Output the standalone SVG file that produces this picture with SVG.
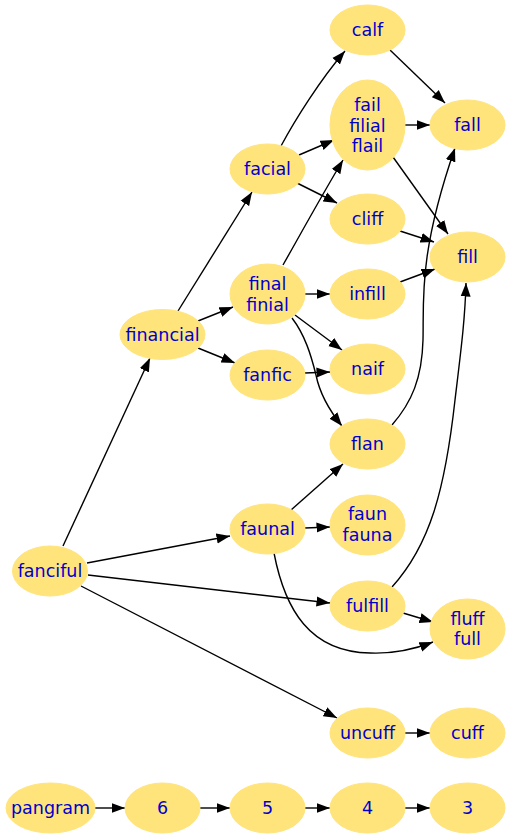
<svg xmlns="http://www.w3.org/2000/svg" width="511" height="839" viewBox="0 0 511 839">
<defs>
<style>
.n ellipse{fill:#ffe47c;stroke:#ffe47c;stroke-width:1}
.n text{font-family:"DejaVu Sans",sans-serif;font-size:17.5px;fill:#0000cd;text-anchor:middle}
#edges path{fill:none;stroke:#000;stroke-width:1.4;marker-end:url(#ah)}
</style>
<marker id="ah" markerUnits="userSpaceOnUse" markerWidth="14" markerHeight="11" viewBox="0 0 14 11" refX="13.5" refY="5.5" orient="auto">
<path d="M0,0.5 L13.5,5.5 L0,10.5 z" fill="#000"/>
</marker>
</defs>
<rect width="511" height="839" fill="#fff"/>
<g id="edges">
<path d="M63,546 L150,358"/>
<path d="M87,563 L230,536"/>
<path d="M88,575 L330,603"/>
<path d="M81,586 L337,718"/>
<path d="M178,311 L252,192"/>
<path d="M198,321 L233,307"/>
<path d="M198,348 L235,363"/>
<path d="M281,146 C295,120 320,80 345,51"/>
<path d="M299,155 L334,140"/>
<path d="M297,183 L337,203"/>
<path d="M283,265 C300,235 322,195 343,160"/>
<path d="M305,294 L330,294"/>
<path d="M295,315 L342,350"/>
<path d="M292,318 C305,335 311,355 316,375 C320,395 329,410 342,426"/>
<path d="M305,373 L330,372"/>
<path d="M390,50 L445,103"/>
<path d="M405,125 L430,125"/>
<path d="M393,157 L448,234"/>
<path d="M400,231 L434,242"/>
<path d="M400,282 L435,269"/>
<path d="M392,425 C412,402 422,378 423,340 C424,300 418,255 455,148"/>
<path d="M291,510 L343,464"/>
<path d="M305,528 L330,527"/>
<path d="M274,553 C285,610 310,652 370,653 C395,654 415,649 433,642"/>
<path d="M392,587 C430,545 445,490 455,400 C461,350 465,320 466,283"/>
<path d="M403,613 L433,622"/>
<path d="M405,733 L430,733"/>
<path d="M95,808 L125,808"/>
<path d="M200,808 L230,808"/>
<path d="M305,808 L330,808"/>
<path d="M405,808 L430,808"/>
</g>
<g id="calf" class="n"><ellipse cx="367.5" cy="30" rx="37.5" ry="25"/><text x="367.5" y="36">calf</text></g>
<g id="fail" class="n"><ellipse cx="367.5" cy="125" rx="37.5" ry="45"/><text x="367.5" y="110.5">fail</text><text x="367.5" y="131.5">filial</text><text x="367.5" y="152">flail</text></g>
<g id="fall" class="n"><ellipse cx="467.5" cy="125" rx="37.5" ry="25"/><text x="467.5" y="131">fall</text></g>
<g id="facial" class="n"><ellipse cx="267.5" cy="169" rx="37.5" ry="25"/><text x="267.5" y="175">facial</text></g>
<g id="cliff" class="n"><ellipse cx="367.5" cy="219" rx="37.5" ry="25"/><text x="367.5" y="225">cliff</text></g>
<g id="fill" class="n"><ellipse cx="467.5" cy="257" rx="37.5" ry="25"/><text x="467.5" y="263">fill</text></g>
<g id="final" class="n"><ellipse cx="267.5" cy="294" rx="37.5" ry="30"/><text x="267.5" y="290">final</text><text x="267.5" y="310.5">finial</text></g>
<g id="infill" class="n"><ellipse cx="367.5" cy="294" rx="37.5" ry="25"/><text x="367.5" y="300">infill</text></g>
<g id="financial" class="n"><ellipse cx="162.5" cy="334.5" rx="42.5" ry="25"/><text x="162.5" y="340.5">financial</text></g>
<g id="fanfic" class="n"><ellipse cx="267.5" cy="375" rx="37.5" ry="25"/><text x="267.5" y="381">fanfic</text></g>
<g id="naif" class="n"><ellipse cx="367.5" cy="369" rx="37.5" ry="25"/><text x="367.5" y="375">naif</text></g>
<g id="flan" class="n"><ellipse cx="367.5" cy="444" rx="37.5" ry="25"/><text x="367.5" y="450">flan</text></g>
<g id="faunal" class="n"><ellipse cx="267.5" cy="529" rx="37.5" ry="25"/><text x="267.5" y="535">faunal</text></g>
<g id="faun" class="n"><ellipse cx="367.5" cy="525" rx="37.5" ry="30"/><text x="367.5" y="520">faun</text><text x="367.5" y="541">fauna</text></g>
<g id="fanciful" class="n"><ellipse cx="50" cy="571" rx="37.5" ry="25"/><text x="50" y="577">fanciful</text></g>
<g id="fulfill" class="n"><ellipse cx="367.5" cy="606" rx="37.5" ry="25"/><text x="367.5" y="612">fulfill</text></g>
<g id="fluff" class="n"><ellipse cx="467.5" cy="629" rx="37.5" ry="30"/><text x="467.5" y="624.5">fluff</text><text x="467.5" y="645">full</text></g>
<g id="uncuff" class="n"><ellipse cx="367.5" cy="733" rx="37.5" ry="25"/><text x="367.5" y="739">uncuff</text></g>
<g id="cuff" class="n"><ellipse cx="467.5" cy="733" rx="37.5" ry="25"/><text x="467.5" y="739">cuff</text></g>
<g id="pangram" class="n"><ellipse cx="50.5" cy="808" rx="44.5" ry="25"/><text x="50.5" y="814">pangram</text></g>
<g id="n6" class="n"><ellipse cx="162.5" cy="808" rx="37.5" ry="25"/><text x="162.5" y="814">6</text></g>
<g id="n5" class="n"><ellipse cx="267.5" cy="808" rx="37.5" ry="25"/><text x="267.5" y="814">5</text></g>
<g id="n4" class="n"><ellipse cx="367.5" cy="808" rx="37.5" ry="25"/><text x="367.5" y="814">4</text></g>
<g id="n3" class="n"><ellipse cx="467.5" cy="808" rx="37.5" ry="25"/><text x="467.5" y="814">3</text></g>
</svg>
